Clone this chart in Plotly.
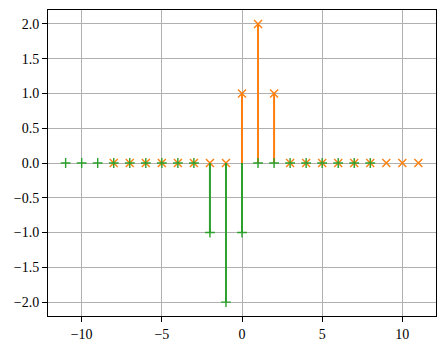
import plotly.graph_objects as go

# Data
x_orange = list(range(-8, 12))
y_orange = [0, 0, 0, 0, 0, 0, 0, 0, 1, 2, 1, 0, 0, 0, 0, 0, 0, 0, 0, 0]
x_green = list(range(-11, 9))
y_green = [0, 0, 0, 0, 0, 0, 0, 0, 0, -1, -2, -1, 0, 0, 0, 0, 0, 0, 0, 0]

ORANGE = "#ff7f0e"
GREEN = "#2ca02c"

def stem_xy(xs, ys):
    sx, sy = [], []
    for a, b in zip(xs, ys):
        sx += [a, a, None]
        sy += [0, b, None]
    return sx, sy

fig = go.Figure()
for xs, ys, col, sym, sz in [(x_orange, y_orange, ORANGE, "x-thin", 8),
                             (x_green, y_green, GREEN, "cross-thin", 7)]:
    sx, sy = stem_xy(xs, ys)
    fig.add_trace(go.Scatter(x=sx, y=sy, mode="lines",
                             line=dict(color=col, width=2), hoverinfo="skip",
                             showlegend=False))
    fig.add_trace(go.Scatter(x=xs, y=ys, mode="markers",
                             marker=dict(symbol=sym, size=sz,
                                         line=dict(color=col, width=1.4)),
                             showlegend=False))

FONT = "Liberation Serif"
axis_common = dict(showline=True, mirror=True, linecolor="black", linewidth=1.1,
                   showgrid=True, gridcolor="#b0b0b0", gridwidth=1.1,
                   zeroline=False, ticks="outside", ticklen=5, tickwidth=1.1,
                   tickcolor="black",
                   tickfont=dict(family=FONT, size=14, color="black"))

fig.update_layout(
    width=445, height=350,
    margin=dict(l=48, r=8, t=10, b=32),
    paper_bgcolor="white", plot_bgcolor="white",
    font=dict(family=FONT),
    xaxis=dict(range=[-12.1, 12.1], tickmode="linear", tick0=0, dtick=5, **axis_common),
    yaxis=dict(range=[-2.2, 2.2], tickmode="linear", tick0=0, dtick=0.5,
               tickformat=".1f", **axis_common),
)

fig.write_html("out.html")
